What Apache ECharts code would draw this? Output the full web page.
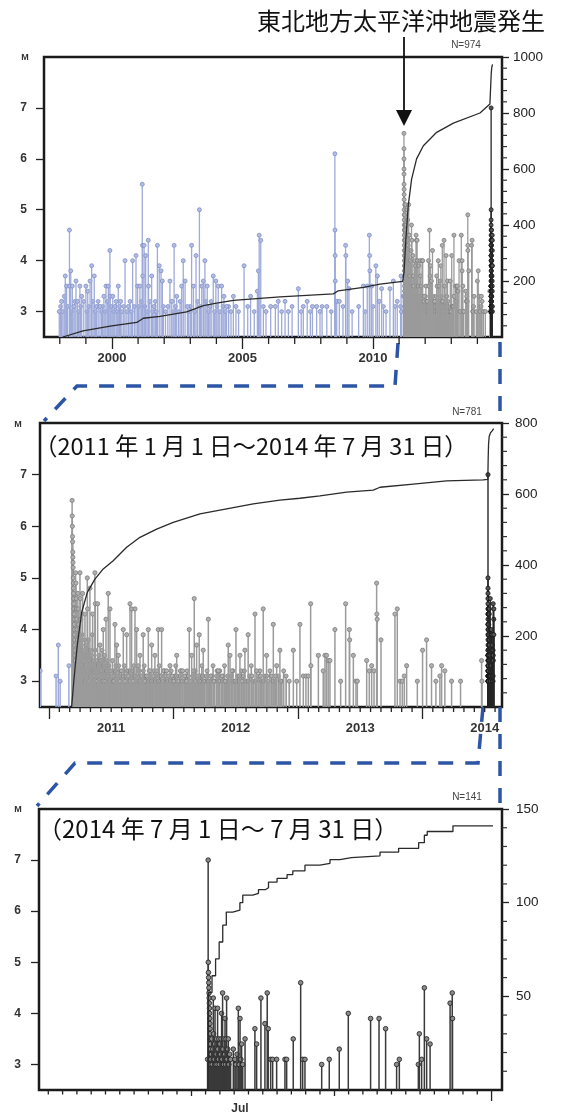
<!DOCTYPE html>
<html><head><meta charset="utf-8">
<script src="https://cdn.jsdelivr.net/npm/echarts@6/dist/echarts.min.js"></script>
<style>html,body{margin:0;padding:0;background:#fff}#c{width:561px;height:1115px}</style>
</head><body><div id="c"></div>
<script>
// ---------- DATA ----------
// events before the 2011 Tohoku earthquake [decimal year, M]
const eventsBefore = [[1997.98,3.0],[1998.07,3.2],[1998.21,3.7],[1998.26,3.5],[1998.37,4.6],[1998.38,3.5],[1998.42,3.8],[1998.48,3.5],[1998.54,3.1],[1998.62,3.6],[1998.68,3.2],[1998.77,3.5],[1998.84,3.3],[1999.00,3.5],[1999.07,3.4],[1999.16,3.6],[1999.22,3.9],[1999.32,3.7],[1999.41,3.1],[1999.54,3.1],[1999.69,3.3],[1999.77,3.5],[1999.86,3.5],[1999.92,4.2],[1999.93,3.3],[2000.03,3.3],[2000.11,3.1],[2000.24,3.5],[2000.33,3.2],[2000.50,4.0],[2000.63,3.1],[2000.79,4.0],[2000.92,4.1],[2000.98,3.5],[2001.07,3.5],[2001.16,5.5],[2001.17,4.3],[2001.18,3.7],[2001.23,4.3],[2001.29,4.1],[2001.39,4.4],[2001.40,3.5],[2001.52,3.7],[2001.61,3.1],[2001.74,4.3],[2001.81,3.9],[2001.88,3.8],[2001.93,3.6],[2002.22,3.6],[2002.29,3.2],[2002.38,4.3],[2002.48,3.3],[2002.67,3.5],[2002.73,4.0],[2002.80,3.6],[2002.89,3.1],[2003.05,4.3],[2003.12,3.5],[2003.22,4.1],[2003.35,5.0],[2003.44,3.5],[2003.50,3.6],[2003.56,4.0],[2003.65,3.5],[2003.75,3.1],[2003.88,3.7],[2003.98,3.6],[2004.07,3.5],[2004.20,3.5],[2004.29,3.3],[2004.39,3.1],[2004.65,3.3],[2004.75,3.1],[2005.06,3.9],[2005.31,3.3],[2005.57,3.4],[2005.61,3.8],[2005.64,4.5],[2005.70,4.4],[2005.90,3.0],[2006.08,3.1],[2006.26,3.1],[2006.37,3.2],[2006.63,3.2],[2006.76,3.0],[2007.14,3.45],[2007.33,3.1],[2007.48,3.2],[2007.68,3.1],[2007.84,3.1],[2007.97,3.0],[2008.23,3.1],[2008.54,6.1],[2008.545,4.6],[2008.55,4.1],[2008.555,3.6],[2008.61,3.2],[2008.71,3.2],[2008.95,4.3],[2008.96,4.1],[2009.03,3.6],[2009.08,3.45],[2009.63,3.5],[2009.78,3.5],[2009.86,4.5],[2009.87,4.1],[2009.88,3.8],[2009.95,3.5],[2010.11,3.9],[2010.17,3.7],[2010.24,3.2],[2010.33,3.45],[2010.65,3.45],[2010.78,3.6],[2010.93,3.2],[2011.057,3.1],[2011.075,3.7],[2011.09,3.0],[2011.16,3.3]];
const eventsBeforeSmall = [[1998.03,3.1],[1998.12,3.0],[1998.17,3.3],[1998.3,3.1],[1998.45,3.0],[1998.58,3.2],[1998.72,3.0],[1998.8,3.1],[1998.92,3.2],[1999.04,3.0],[1999.11,3.1],[1999.27,3.2],[1999.36,3.0],[1999.47,3.2],[1999.6,3.0],[1999.64,3.1],[1999.73,3.0],[1999.82,3.2],[1999.97,3.1],[2000.07,3.0],[2000.16,3.2],[2000.2,3.0],[2000.29,3.1],[2000.38,3.0],[2000.45,3.1],[2000.57,3.0],[2000.69,3.2],[2000.74,3.0],[2000.86,3.1],[2001.02,3.1],[2001.12,3.2],[2001.26,3.1],[2001.34,3.0],[2001.45,3.2],[2001.56,3.0],[2001.66,3.2],[2001.7,3.0],[2001.97,3.1],[2002.05,3.0],[2002.14,3.1],[2002.34,3.0],[2002.43,3.1],[2002.55,3.0],[2002.61,3.2],[2002.94,3.0],[2003.0,3.1],[2003.17,3.0],[2003.28,3.2],[2003.39,3.1],[2003.6,3.2],[2003.7,3.0],[2003.8,3.2],[2003.93,3.0],[2004.02,3.1],[2004.13,3.0],[2004.25,3.1],[2004.34,3.0],[2004.47,3.1],[2004.56,3.0],[2004.85,3.0],[2005.2,3.1],[2005.45,3.0],[2005.8,3.1],[2006.5,3.0],[2006.9,3.1],[2007.25,3.0],[2007.6,3.0],[2008.05,3.1],[2008.4,3.0],[2008.85,3.1],[2009.2,3.0],[2009.45,3.1],[2009.7,3.0],[2010.0,3.1],[2010.4,3.1],[2010.5,3.0],[2010.85,3.1]];

// events from 2011-03-11 to 2014-06-30, the larger / readable ones [decimal year, M]
const eventsAfter = [[2011.186,6.5],[2011.187,6.2],[2011.188,6.0],[2011.189,5.8],[2011.19,5.7],[2011.191,5.5],[2011.192,5.4],[2011.193,5.3],[2011.194,5.2],[2011.195,5.0],[2011.196,4.9],[2011.197,4.8],[2011.198,4.7],[2011.199,4.6],[2011.2,4.5],[2011.201,4.4],[2011.202,4.3],[2011.203,4.2],[2011.204,4.1],[2011.205,4.0],[2011.206,3.9],[2011.207,3.8],[2011.208,3.7],[2011.209,3.6],[2011.21,3.5],[2011.211,3.4],[2011.214,5.1],[2011.217,4.9],[2011.219,4.6],[2011.221,4.4],[2011.223,4.2],[2011.226,4.0],[2011.229,3.8],[2011.232,4.7],[2011.235,4.4],[2011.238,4.1],[2011.242,3.9],
[2011.249,5.1],[2011.252,4.6],[2011.256,4.2],[2011.27,4.7],[2011.289,4.3],[2011.308,5.0],[2011.31,4.4],[2011.329,4.8],[2011.351,4.3],[2011.369,5.1],[2011.372,4.5],[2011.391,4.5],[2011.41,3.7],[2011.436,4.0],[2011.458,4.2],[2011.476,4.7],[2011.49,4.4],[2011.53,4.1],[2011.544,3.7],[2011.557,3.5],[2011.597,4.0],[2011.624,3.9],[2011.651,4.5],[2011.664,4.4],[2011.691,4.4],[2011.704,4.0],[2011.731,3.5],[2011.757,3.9],[2011.798,4.0],[2011.825,3.7],[2011.851,3.5],[2011.878,4.0],[2011.905,4.0],[2011.945,3.2],[2011.972,3.3],[2012.026,3.5],[2012.074,3.2],[2012.127,4.0],[2012.146,3.5],[2012.167,4.6],[2012.186,3.7],[2012.207,3.9],[2012.239,3.6],[2012.28,4.2],[2012.36,3.2],[2012.44,3.7],[2012.454,3.5],[2012.502,4.0],[2012.534,3.5],[2012.574,3.6],[2012.6,3.9],[2012.655,4.3],[2012.668,3.2],[2012.721,4.4],[2012.748,3.5],[2012.802,4.1],[2012.829,3.3],[2012.855,3.6],
[2012.963,3.6],[2012.99,3.0],[2013.016,4.1],[2013.043,3.1],[2013.064,3.1],[2013.083,3.1],[2013.102,4.5],[2013.104,3.3],[2013.164,3.5],[2013.203,3.2],[2013.217,3.5],[2013.23,3.5],[2013.243,3.4],[2013.257,3.4],[2013.297,4.0],[2013.343,3.0],[2013.383,4.5],[2013.413,4.0],[2013.415,3.8],[2013.445,3.5],[2013.466,3.0],[2013.477,3.0],[2013.552,3.4],[2013.573,3.2],[2013.592,3.3],[2013.611,3.2],[2013.632,4.9],[2013.634,4.3],[2013.636,4.2],[2013.667,3.8],[2013.779,4.3],[2013.798,4.4],[2013.82,3.0],[2013.838,3.0],[2013.854,3.1],[2013.873,3.3],[2013.959,3.0],[2014.001,3.6],[2014.033,3.8],[2014.073,3.3],[2014.108,3.0],[2014.14,3.1],[2014.154,3.3],[2014.18,3.2],[2014.234,3.0],[2014.306,3.0],[2014.475,3.4],[2014.478,3.0]];

// the many small aftershocks that fill the base of the plot [decimal year, M]
const eventsAfterSmall = [[2011.212,3.3],[2011.216,3.0],[2011.22,3.4],[2011.224,3.1],[2011.228,3.2],[2011.232,3.5],[2011.236,3.0],[2011.24,3.3],[2011.244,3.1],[2011.253,3.2],[2011.258,3.0],[2011.262,3.4],[2011.266,3.1],[2011.275,3.3],[2011.28,3.0],[2011.284,3.2],[2011.294,3.1],[2011.298,3.5],[2011.303,3.0],[2011.313,3.3],[2011.318,3.1],[2011.323,3.2],[2011.334,3.0],[2011.339,3.4],[2011.345,3.1],[2011.356,3.2],[2011.362,3.0],[2011.374,3.3],[2011.38,3.1],[2011.386,3.2],[2011.397,3.0],[2011.404,3.3],[2011.416,3.1],[2011.424,3.4],[2011.43,3.0],[2011.443,3.2],[2011.45,3.1],[2011.464,3.3],[2011.47,3.0],[2011.483,3.2],[2011.497,3.1],
[2011.505,3.0],[2011.515,3.2],[2011.525,3.1],[2011.538,3.3],[2011.55,3.0],[2011.565,3.2],[2011.575,3.1],[2011.588,3.0],[2011.605,3.3],[2011.615,3.1],[2011.632,3.0],[2011.642,3.2],[2011.657,3.1],[2011.672,3.0],[2011.682,3.3],[2011.697,3.1],[2011.712,3.0],[2011.722,3.2],[2011.738,3.1],[2011.748,3.0],[2011.765,3.3],[2011.778,3.1],[2011.79,3.0],[2011.805,3.2],[2011.815,3.1],[2011.832,3.0],[2011.842,3.2],[2011.86,3.1],[2011.87,3.0],[2011.886,3.3],[2011.895,3.1],[2011.915,3.0],[2011.928,3.2],[2011.938,3.1],[2011.955,3.0],[2011.965,3.1],[2011.982,3.2],[2011.995,3.0],[2012.008,3.1],[2012.018,3.3],[2012.035,3.0],[2012.048,3.1],[2012.06,3.2],[2012.085,3.0],[2012.097,3.1],[2012.11,3.2],[2012.135,3.0],[2012.155,3.1],[2012.175,3.2],[2012.196,3.0],[2012.218,3.1],[2012.228,3.3],[2012.25,3.0],[2012.262,3.1],[2012.27,3.2],[2012.292,3.0],[2012.305,3.1],[2012.318,3.3],[2012.33,3.0],[2012.345,3.1],[2012.372,3.2],[2012.385,3.0],[2012.398,3.1],[2012.41,3.3],[2012.425,3.0],[2012.465,3.1],[2012.478,3.2],[2012.49,3.0],[2012.515,3.1],[2012.522,3.0],[2012.545,3.2],[2012.56,3.1],[2012.585,3.0],[2012.612,3.1],[2012.625,3.3],[2012.64,3.0],[2012.68,3.1],[2012.695,3.2],[2012.708,3.0],[2012.735,3.1],[2012.76,3.0],[2012.775,3.2],[2012.788,3.1],[2012.815,3.0],[2012.842,3.1],[2012.87,3.0],[2012.885,3.2],[2012.905,3.1],[2012.93,3.0]];
const eventsAfterSmall2 = [[2011.214,3.6],[2011.218,3.9],[2011.222,3.3],[2011.226,3.7],[2011.23,3.2],[2011.234,3.9],[2011.238,3.4],[2011.242,3.6],[2011.246,3.2],[2011.25,3.8],[2011.255,3.5],[2011.26,3.7],[2011.264,3.3],[2011.268,3.9],[2011.272,3.2],[2011.277,3.6],[2011.282,3.4],[2011.287,3.8],[2011.291,3.0],[2011.296,3.3],[2011.3,3.7],[2011.306,3.2],[2011.311,3.5],[2011.316,3.8],[2011.32,3.0],[2011.326,3.4],[2011.331,3.6],[2011.337,3.1],[2011.342,3.5],[2011.348,3.9],[2011.353,3.2],[2011.359,3.4],[2011.365,3.1],[2011.371,3.6],[2011.377,3.2],[2011.383,3.4],[2011.389,3.0],[2011.394,3.3],[2011.4,3.5],[2011.407,3.1],[2011.413,3.4],[2011.42,3.2],[2011.427,3.6],[2011.434,3.0],[2011.44,3.3],[2011.447,3.5],[2011.454,3.0],[2011.46,3.2],[2011.467,3.4],[2011.474,3.1],[2011.48,3.3],[2011.487,3.0],[2011.494,3.2],[2011.51,3.4],[2011.52,3.0],[2011.532,3.2],[2011.545,3.1],[2011.56,3.3],[2011.57,3.0],[2011.582,3.2],[2011.595,3.1],[2011.61,3.0],[2011.625,3.2],[2011.637,3.1],[2011.65,3.0],[2011.667,3.2],[2011.677,3.0],[2011.69,3.1],[2011.705,3.0],[2011.717,3.3],[2011.73,3.0],[2011.743,3.1],[2011.758,3.2],[2011.77,3.0],[2011.785,3.1],[2011.8,3.0],[2011.81,3.2],[2011.825,3.0],[2011.837,3.1],[2011.855,3.0],[2011.865,3.2],[2011.88,3.0],[2011.9,3.1],[2011.91,3.0],[2011.922,3.2],[2011.95,3.0],[2011.96,3.1],[2011.977,3.0],[2011.99,3.1],[2012.003,3.0],[2012.025,3.1],[2012.04,3.0],[2012.055,3.2],[2012.07,3.0],[2012.09,3.1],[2012.105,3.0],[2012.12,3.1],[2012.14,3.0],[2012.16,3.2],[2012.18,3.0],[2012.2,3.1],[2012.21,3.0],[2012.235,3.1],[2012.245,3.0],[2012.28,3.0],[2012.3,3.1],[2012.325,3.0],[2012.35,3.2],[2012.365,3.0],[2012.39,3.1],[2012.415,3.0],[2012.435,3.1],[2012.45,3.0],[2012.47,3.2],[2012.5,3.0],[2012.53,3.1],[2012.55,3.0],[2012.57,3.2],[2012.6,3.0],[2012.63,3.1],[2012.66,3.0],[2012.7,3.1],[2012.72,3.0],[2012.75,3.1],[2012.8,3.0],[2012.82,3.1],[2012.86,3.0]];

// July 2014 events [days after 2014-07-01 00:00, M]
const eventsJuly = [[11.14,3.1],[11.18,7.0],[11.19,5.0],[11.2,4.8],[11.21,4.7],[11.22,4.6],[11.23,4.5],[11.24,4.4],[11.25,4.3],[11.26,4.2],[11.27,4.1],[11.28,4.0],[11.29,3.9],[11.3,3.8],[11.31,3.7],[11.32,3.6],[11.33,3.5],[11.34,3.4],[11.35,3.3],[11.36,3.2],[11.37,3.1],[11.38,3.0],[11.4,3.2],[11.43,3.5],[11.47,3.0],[11.5,3.3],[11.54,4.3],[11.56,3.6],[11.6,3.1],[11.63,3.4],[11.66,4.1],[11.7,3.0],[11.74,3.2],[11.76,3.5],[11.8,3.0],[11.84,4.1],[11.86,3.3],[11.9,3.1],[11.93,3.5],[11.96,3.0],[12.0,3.4],[12.04,3.2],[12.08,3.5],[12.12,4.0],[12.15,3.1],[12.19,4.4],[12.22,3.3],[12.26,3.0],[12.3,3.5],[12.33,3.2],[12.36,3.9],[12.4,3.0],[12.43,3.5],[12.47,4.3],[12.5,3.1],[12.55,3.3],[12.59,3.5],[12.63,3.0],[12.68,3.2],[12.75,3.1],[12.94,3.3],[13.05,3.1],[13.12,3.0],[13.2,3.2],[13.29,4.1],[13.35,3.0],[13.41,3.9],[13.47,3.1],[13.52,3.4],[13.6,3.0],[13.76,3.5],[14.45,3.7],[14.57,3.4],[14.87,4.3],[15.15,3.8],[15.31,4.4],[15.38,3.7],[15.55,3.1],[15.69,3.1],[15.97,3.1],[16.55,3.1],[16.67,3.1],[17.13,3.5],[17.65,4.6],[17.79,3.1],[17.95,3.1],[19.12,3.0],[19.65,3.1],[20.35,3.3],[20.98,4.0],[22.54,3.9],[23.13,3.9],[23.59,3.7],[24.36,3.0],[24.55,3.1],[25.88,3.0],[25.95,3.6],[26.11,3.1],[26.3,4.5],[26.46,3.5],[26.7,3.4],[28.1,4.2],[28.25,4.4],[28.27,3.9]];

// cumulative counts
const cumPanel1 = [[1998.12,0],[1998.89,22],[1999.99,40],[2000.95,52],[2001.20,67],[2001.84,74],[2002.86,90],[2003.50,112],[2004.01,121],[2004.65,131],[2006.44,143],[2008.48,154],[2008.67,165],[2009.63,177],[2010.27,189],[2011.14,199],[2011.19,232],[2011.26,350],[2011.35,469],[2011.48,564],[2011.67,636],[2011.93,683],[2012.44,731],[2013.08,764],[2014.10,800],[2014.48,832],[2014.526,836],[2014.53,940],[2014.55,962],[2014.58,974]];
const cumPanel2 = [[2011.182,0],[2011.201,79],[2011.227,173],[2011.263,267],[2011.308,323],[2011.369,360],[2011.436,389],[2011.516,412],[2011.624,450],[2011.731,478],[2011.865,501],[2011.998,520],[2012.213,544],[2012.427,558],[2012.641,572],[2012.855,583],[2013.016,588],[2013.177,595],[2013.391,605],[2013.605,611],[2013.659,619],[2013.926,628],[2014.194,637],[2014.488,640],[2014.525,641],[2014.528,700],[2014.531,740],[2014.536,762],[2014.546,772],[2014.56,778],[2014.572,784]];
const cumPanel3 = [[11.17,0],[11.2,52],[11.45,61],[11.7,70],[11.95,79],[12.2,88],[12.45,95],[12.9,96],[13.4,100],[13.6,104],[14.3,105],[14.7,107],[15.2,108],[15.4,111],[16.0,113],[16.7,115],[17.1,117],[17.95,120],[19.0,121],[19.7,123],[20.4,124],[21.2,125],[23.2,127],[24.5,129],[25.9,132],[26.3,136],[26.5,138],[28.3,141],[31.1,141]];

// tick labels
const mTicks = [3,4,5,6,7];
const p1YearLabels = [2000,2005,2010];
const p2YearLabels = [2011,2012,2013,2014];
const p3MonthLabel = 'Jul';
const p1CountTicks = [200,400,600,800,1000];
const p2CountTicks = [200,400,600,800];
const p3CountTicks = [50,100,150];

// ---------- helpers ----------
const JULY0 = 2014 + 181/365; // 2014-07-01 in decimal years
const julyAsYears = eventsJuly.map(d => [JULY0 + d[0]/365, d[1]]);

function range(a, b, step) { const r = []; for (let v = a; v <= b + 1e-9; v += step) r.push(+v.toFixed(6)); return r; }

const P = [
  {min: 1997.395, max: 2014.943, cmax: 1000},
  {min: 2010.928, max: 2014.639, cmax: 800},
  {min: -0.65, max: 31.73, cmax: 150}
];
const rects = [
  {left: 44, top: 57, width: 458, height: 280},
  {left: 40, top: 423, width: 462, height: 284},
  {left: 39, top: 809, width: 463, height: 284}
];

function stems(data, gi, stroke, fill, edge, r, lw) {
  return {
    type: 'custom', xAxisIndex: gi, yAxisIndex: gi, clip: true, silent: true,
    data: data, encode: {x: 0, y: 1},
    renderItem: function (params, api) {
      const p = api.coord([api.value(0), api.value(1)]);
      const b = api.coord([api.value(0), 2.5]);
      return { type: 'group', children: [
        { type: 'line', shape: {x1: p[0], y1: b[1], x2: p[0], y2: p[1]}, style: {stroke: stroke, lineWidth: lw} },
        { type: 'circle', shape: {cx: p[0], cy: p[1], r: r}, style: {fill: fill, stroke: edge, lineWidth: 0.8} }
      ]};
    }
  };
}
function cumLine(data, gi, step) {
  return { type: 'line', xAxisIndex: gi, yAxisIndex: 3 + gi, data: data, step: step || false,
    showSymbol: false, silent: true, z: 5, lineStyle: {color: '#2a2a2a', width: 1.3} };
}
// short minor ticks placed through the axes' own scales (outside the frame)
function xTicks(values, gi, len) {
  return { type: 'custom', xAxisIndex: gi, yAxisIndex: gi, clip: false, silent: true, z: 10,
    data: values.map(v => [v, 2.5]), encode: {x: 0, y: 1},
    renderItem: function (params, api) {
      const p = api.coord([api.value(0), 2.5]);
      return { type: 'line', shape: {x1: p[0], y1: p[1], x2: p[0], y2: p[1] + len}, style: {stroke: '#222', lineWidth: 1.3} };
    } };
}
function yTicks(values, gi, len) {
  return { type: 'custom', xAxisIndex: gi, yAxisIndex: 3 + gi, clip: false, silent: true, z: 10,
    data: values.map(v => [P[gi].max, v]), encode: {x: 0, y: 1},
    renderItem: function (params, api) {
      const p = api.coord([P[gi].max, api.value(1)]);
      return { type: 'line', shape: {x1: p[0], y1: p[1], x2: p[0] + len, y2: p[1]}, style: {stroke: '#333', lineWidth: 1.2} };
    } };
}

const tickStyle = {color: '#222', width: 1.3};
const noLine = {show: false, onZero: false};
const lblFont = {fontWeight: 'bold', color: '#333', fontFamily: 'Liberation Sans'};

const xMajor = [p1YearLabels, p2YearLabels, [10, 20]];
const xMajorLen = [12, 12, 6];
const xLabelVals = [p1YearLabels, p2YearLabels.map(y => y + 0.5), [13.4]];
const xFmt = [v => String(Math.round(v)), v => String(Math.floor(v)), () => p3MonthLabel];
const xMargin = [15, 15, 13];
const xFs = [13, 13, 12];
const xMinor = [
  range(1998, 2014, 1).filter(v => p1YearLabels.indexOf(v) < 0),
  range(2011, 2014.5834, 1/12).filter(v => Math.abs(v - Math.round(v)) > 1e-6),
  range(0, 30, 1).filter(v => v !== 10 && v !== 20)
];
const xMinorLen = [7, 5, 4.5];
const countMajor = [p1CountTicks, p2CountTicks, p3CountTicks];
const countMinor = [
  range(40, 960, 40).filter(v => v % 200 !== 0),
  range(40, 760, 40).filter(v => v % 200 !== 0),
  range(10, 140, 10).filter(v => v % 50 !== 0)
];
const mMargin = [17, 13, 18];
const cMargin = [11, 13, 14];

const xAxis = [], yAxis = [];
for (let i = 0; i < 3; i++) xAxis.push({type: 'value', gridIndex: i, position: 'bottom', min: P[i].min, max: P[i].max,
  axisLine: noLine, splitLine: {show: false},
  axisTick: {show: true, customValues: xMajor[i], length: xMajorLen[i], lineStyle: tickStyle},
  axisLabel: Object.assign({show: true, customValues: xLabelVals[i], formatter: xFmt[i], margin: xMargin[i], fontSize: xFs[i]}, lblFont)});
for (let i = 0; i < 3; i++) yAxis.push({type: 'value', gridIndex: i, position: 'left', min: 2.5, max: 8,
  axisLine: noLine, splitLine: {show: false},
  axisTick: {show: true, customValues: mTicks, length: 8, lineStyle: tickStyle},
  axisLabel: Object.assign({customValues: mTicks, margin: mMargin[i], fontSize: 12}, lblFont)});
for (let i = 0; i < 3; i++) yAxis.push({type: 'value', gridIndex: i, position: 'right', min: 0, max: P[i].cmax,
  axisLine: noLine, splitLine: {show: false},
  axisTick: {show: true, customValues: countMajor[i], length: 7, lineStyle: tickStyle},
  axisLabel: {customValues: countMajor[i], formatter: v => String(v), margin: cMargin[i], fontSize: 13.5, color: '#222', fontFamily: 'Liberation Sans'}});

const BLUE = ['#9eaad9', '#b3bde3', '#7f8ec6'];
const GRAY = ['#9b9b9b', '#b0b0b0', '#7c7c7c'];
const DARK = ['#262626', '#555555', '#111111'];

const p2Before = eventsBefore.filter(d => d[0] >= P[1].min);

const series = [
  stems(eventsBeforeSmall, 0, BLUE[0], BLUE[1], BLUE[2], 1.9, 1.3),
  stems(eventsBefore, 0, BLUE[0], BLUE[1], BLUE[2], 2.0, 1.3),
  stems(eventsAfterSmall, 0, GRAY[0], GRAY[1], GRAY[2], 1.8, 1.3),
  stems(eventsAfterSmall2, 0, GRAY[0], GRAY[1], GRAY[2], 1.8, 1.3),
  stems(eventsAfter, 0, GRAY[0], GRAY[1], GRAY[2], 2.0, 1.3),
  stems(julyAsYears, 0, DARK[0], DARK[1], DARK[2], 2.0, 1.3),
  cumLine(cumPanel1, 0),
  stems(p2Before, 1, BLUE[0], BLUE[1], BLUE[2], 2.0, 1.5),
  stems(eventsAfterSmall, 1, GRAY[0], GRAY[1], GRAY[2], 2.0, 1.7),
  stems(eventsAfterSmall2, 1, GRAY[0], GRAY[1], GRAY[2], 2.0, 1.7),
  stems(eventsAfter, 1, GRAY[0], GRAY[1], GRAY[2], 2.1, 1.5),
  stems(julyAsYears, 1, DARK[0], DARK[1], DARK[2], 2.1, 1.4),
  cumLine(cumPanel2, 1),
  stems(eventsJuly, 2, '#3a3a3a', '#8a8a8a', '#1a1a1a', 2.3, 1.5),
  cumLine(cumPanel3, 2, 'end'),
  xTicks(xMinor[0], 0, xMinorLen[0]), xTicks(xMinor[1], 1, xMinorLen[1]), xTicks(xMinor[2], 2, xMinorLen[2]),
  xTicks([31], 2, 11),
  yTicks(countMinor[0], 0, 5), yTicks(countMinor[1], 1, 5), yTicks(countMinor[2], 2, 5)
];

const dash = {stroke: '#2d55a5', lineWidth: 3.5, lineDash: [15, 12], fill: null};
function txt(x, y, text, fs, extra) {
  return {type: 'text', x: x, y: y, silent: true, style: Object.assign({
    text: text, fontSize: fs, fill: '#111', fontFamily: 'Noto Sans CJK JP',
    align: 'left', verticalAlign: 'middle', textAlign: 'left', textVerticalAlign: 'middle'}, extra || {})};
}
const center = {align: 'center', textAlign: 'center'};
const small = {fill: '#444', fontFamily: 'Liberation Sans'};
const mStyle = {fill: '#333', fontFamily: 'Liberation Sans', fontWeight: 'bold'};

const graphic = [
  txt(401, 21, '東北地方太平洋沖地震発生', 24, center),
  {type: 'line', silent: true, shape: {x1: 404, y1: 37, x2: 404, y2: 112}, style: {stroke: '#111', lineWidth: 1.8}},
  {type: 'polygon', silent: true, shape: {points: [[396, 110], [412, 110], [404, 126]]}, style: {fill: '#111'}},
  txt(466, 45, 'N=974', 10, Object.assign({}, small, center)),
  txt(467, 412, 'N=781', 10, Object.assign({}, small, center)),
  txt(467, 797, 'N=141', 10, Object.assign({}, small, center)),
  txt(25, 58, 'M', 9, Object.assign({}, mStyle, center)),
  txt(18, 425, 'M', 9, Object.assign({}, mStyle, center)),
  txt(18, 810, 'M', 9, Object.assign({}, mStyle, center)),
  txt(34, 446, '（2011 年 1 月 1 日～2014 年 7 月 31 日）', 23.5),
  txt(38, 829, '（2014 年 7 月 1 日～ 7 月 31 日）', 24),
  {type: 'polyline', silent: true, shape: {points: [[398, 343], [395, 386], [77, 386], [44, 421]]}, style: dash},
  {type: 'polyline', silent: true, shape: {points: [[500, 342], [500, 420]]}, style: dash},
  {type: 'polyline', silent: true, shape: {points: [[483, 707], [478, 763], [75, 763], [37, 806]]}, style: dash},
  {type: 'polyline', silent: true, shape: {points: [[500, 707], [500, 806]]}, style: dash}
];

const gridStyle = {show: true, borderColor: '#1a1a1a', borderWidth: 2.5, backgroundColor: 'transparent'};
const chart = echarts.init(document.getElementById('c'), null, {renderer: 'canvas', width: 561, height: 1115});
chart.setOption({
  animation: false,
  backgroundColor: '#fff',
  grid: rects.map(r => Object.assign({}, r, gridStyle)),
  xAxis: xAxis,
  yAxis: yAxis,
  series: series,
  graphic: graphic
});
</script></body></html>
